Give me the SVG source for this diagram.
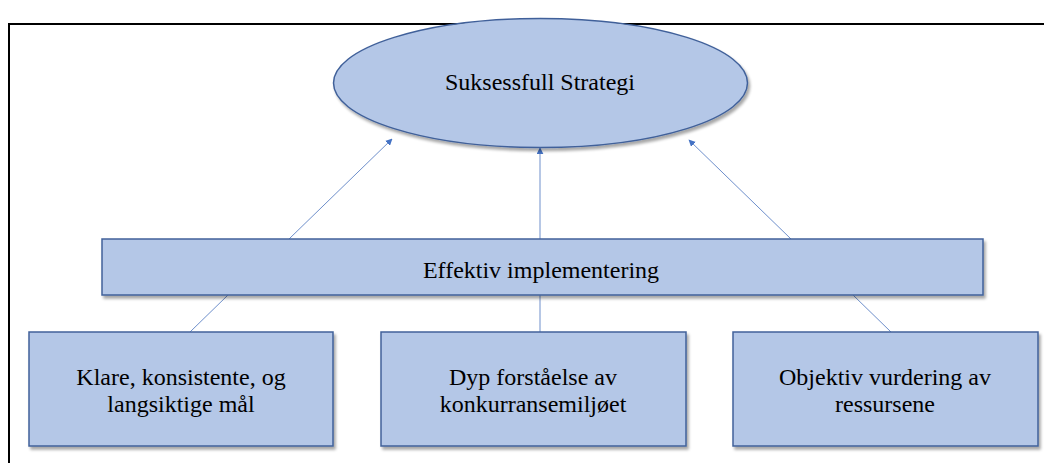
<svg xmlns="http://www.w3.org/2000/svg" width="1044" height="463" viewBox="0 0 1044 463">
<defs>
<filter id="sh" x="-10%" y="-10%" width="125%" height="130%">
<feGaussianBlur in="SourceAlpha" stdDeviation="1.5"/>
<feOffset dx="2" dy="3" result="b"/>
<feComponentTransfer><feFuncA type="linear" slope="0.35"/></feComponentTransfer>
<feMerge><feMergeNode/><feMergeNode in="SourceGraphic"/></feMerge>
</filter>
<marker id="arr" viewBox="0 0 10 10" refX="9" refY="5" markerWidth="7" markerHeight="7" orient="auto" markerUnits="userSpaceOnUse">
<path d="M0,0 L10,5 L0,10 z" fill="#4472C4"/>
</marker>
</defs>
<style>
.n{fill:#B4C7E7;stroke:#41619A;stroke-width:1.5;filter:url(#sh)}
.c{stroke:#6E8FCB;stroke-width:1;fill:none}
text{font-family:'Liberation Serif','Times New Roman',serif;font-size:24px;fill:#000;text-anchor:middle}
</style>
<rect x="0" y="0" width="1044" height="463" fill="#fff"/>
<rect x="9" y="24" width="1045" height="450" fill="none" stroke="#000" stroke-width="2"/>
<g id="connectors">
<line class="c" x1="289" y1="239" x2="392" y2="139" marker-end="url(#arr)"/>
<line class="c" x1="540" y1="239" x2="540" y2="148" marker-end="url(#arr)"/>
<line class="c" x1="791" y1="239" x2="689" y2="140" marker-end="url(#arr)"/>
<line class="c" x1="228" y1="295" x2="190" y2="332"/>
<line class="c" x1="540" y1="295" x2="540" y2="332"/>
<line class="c" x1="853" y1="295" x2="891" y2="332"/>
</g>
<g id="strategi">
<ellipse class="n" cx="540.5" cy="83" rx="207" ry="64.5"/>
<text x="540" y="90">Suksessfull Strategi</text>
</g>
<g id="implementering">
<rect class="n" x="102" y="239" width="881" height="56"/>
<text x="541" y="278">Effektiv implementering</text>
</g>
<g id="maal">
<rect class="n" x="29" y="332" width="304" height="114"/>
<text x="181" y="385">Klare, konsistente, og</text>
<text x="181" y="412">langsiktige mål</text>
</g>
<g id="konkurranse">
<rect class="n" x="381" y="332" width="305" height="114"/>
<text x="533" y="385">Dyp forståelse av</text>
<text x="533" y="412">konkurransemiljøet</text>
</g>
<g id="ressurser">
<rect class="n" x="733" y="332" width="305" height="114"/>
<text x="885" y="385">Objektiv vurdering av</text>
<text x="885" y="412">ressursene</text>
</g>
</svg>
